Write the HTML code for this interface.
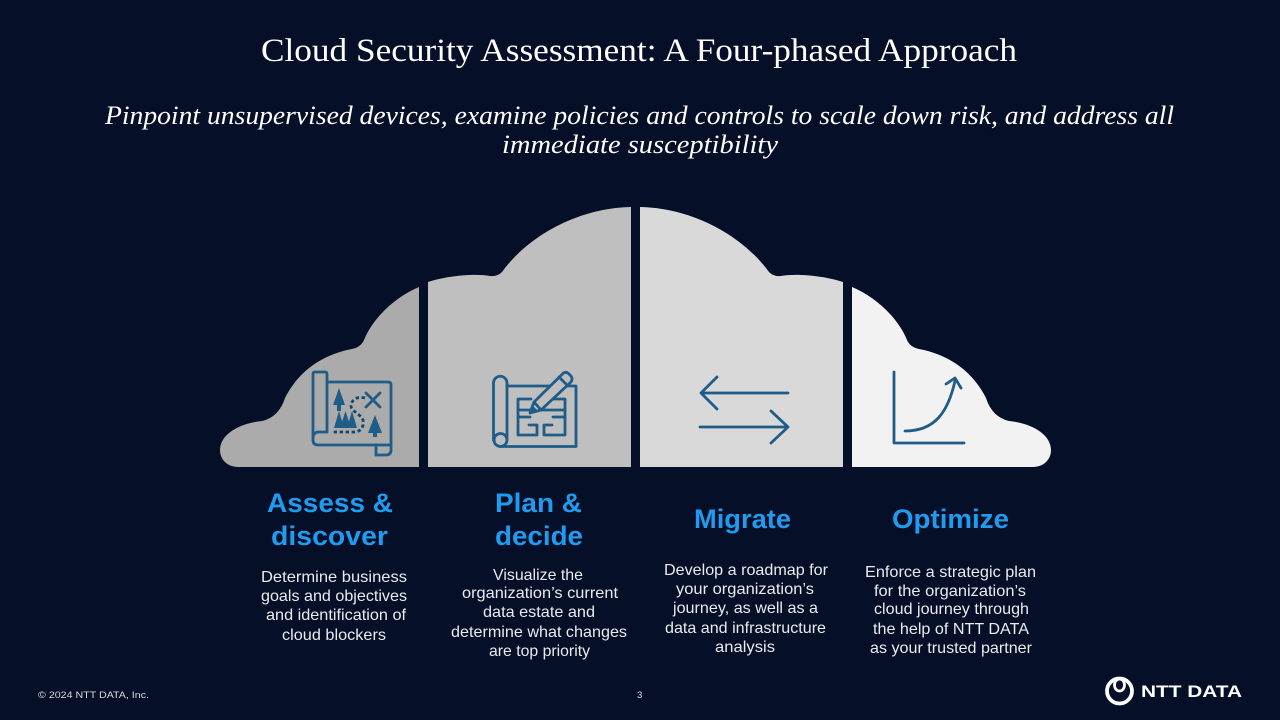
<!DOCTYPE html>
<html lang="en">
<head>
<meta charset="utf-8">
<title>Cloud Security Assessment</title>
<style>
html,body{margin:0;padding:0;width:1280px;height:720px;overflow:hidden;background:#050f27}
svg{display:block}
.t{font-family:"Liberation Serif",serif;fill:#fff}
.h{font-family:"Liberation Sans",sans-serif;font-weight:700;font-size:27px;fill:#1f9bf0}
.b{font-family:"Liberation Sans",sans-serif;font-size:16px;fill:#e9ebee}
.f{font-family:"Liberation Sans",sans-serif;font-size:9.500px;fill:#d8dbe0}
.i{fill:none;stroke:#1f5c87;stroke-width:2.800;stroke-linecap:round;stroke-linejoin:round}
.j{fill:#1f5c87;stroke:none}
</style>
</head>
<body>
<svg width="1280" height="720" viewBox="0 0 1280 720" xmlns="http://www.w3.org/2000/svg">
<rect width="1280" height="720" fill="#050f27"/>

<text class="t" x="261" y="61" font-size="33" textLength="756" lengthAdjust="spacingAndGlyphs">Cloud Security Assessment: A Four-phased Approach</text>
<text class="t" x="105" y="124" font-size="26" font-style="italic" textLength="1069" lengthAdjust="spacingAndGlyphs">Pinpoint unsupervised devices, examine policies and controls to scale down risk, and address all</text>
<text class="t" x="502" y="153" font-size="26" font-style="italic" textLength="276" lengthAdjust="spacingAndGlyphs">immediate susceptibility</text>

<!-- cloud -->
<path fill="#ababab" d="M419 287C395 297 373 318 364 340Q361 347 352 349C315 356 295 378 285 398Q279 417 262 421C240 423 220 434 220 450C220 460 228 467 238 467H419Z"/>
<path fill="#bfbfbf" d="M428 282C445 276 475 273 490 276Q497 277 502 272C528 236 578 208 631 207V467H428Z"/>
<g transform="translate(1271,0) scale(-1,1)">
<path fill="#d9d9d9" d="M428 282C445 276 475 273 490 276Q497 277 502 272C528 236 578 208 631 207V467H428Z"/>
<path fill="#f2f2f2" d="M419 287C395 297 373 318 364 340Q361 347 352 349C315 356 295 378 285 398Q279 417 262 421C240 423 220 434 220 450C220 460 228 467 238 467H419Z"/>
</g>

<!-- map icon -->
<g class="i">
<path d="M327 432V374Q327 372 325 372H315Q313 372 313 374V440Q313 445 318 445H391"/>
<path d="M327 382H388Q391 382 391 385V450Q391 455 386 455H376V445"/>
<path d="M313 438Q313 432 319 432H327"/>
<path d="M366 393L380 407M380 393L366 407"/>
</g>
<path d="M365 398C356 396 352 400 351 405C350 411 361 414 363 420C364 426 362 431 355 432H333" fill="none" stroke="#15476a" stroke-width="2.800" stroke-dasharray="3.400 2.600"/>
<g class="j">
<path d="M339 388L333 405H337V411H341V405H345Z"/>
<path d="M339 411L334 428H344Z"/>
<path d="M345.500 411L340 428H351Z"/>
<path d="M352 411L347 428H357Z"/>
<path d="M375 415L368 433H373V437H377V433H382Z"/>
</g>

<!-- blueprint icon -->
<g class="i">
<path d="M507 440V383A6.750 6.750 0 0 0 493.500 383V440"/>
<circle cx="500.500" cy="440" r="6.500"/>
<path d="M507 386H576V446.500H500"/>
<path d="M544 399H565V435H544V425H552M531 399H518V435H537V425H529M518 410H534M518 417H530M565 410H541M565 417H553"/>
<path d="M530 413L534 402L563 373.500Q566 371 569 374L571 376Q573 379 571 382L541 410Z" fill="#bfbfbf"/>
<path d="M534 402L541 410M559 377L567 385"/>
</g>
<path class="j" d="M529 414L532 405L538 411Z"/>

<!-- arrows icon -->
<g class="i">
<path d="M788 393H701M717 377L701 393L717 409"/>
<path d="M700 427H788M771 411L788 427L771 443"/>
</g>

<!-- chart icon -->
<g class="i">
<path d="M894 372V443H964"/>
<path d="M905 431C935 431 948 412 955 381"/>
<path d="M946 384L955 378L961 388"/>
</g>

<!-- headings -->
<text class="h" x="267" y="512" textLength="126" lengthAdjust="spacingAndGlyphs">Assess &amp;</text>
<text class="h" x="271" y="545" textLength="117" lengthAdjust="spacingAndGlyphs">discover</text>
<text class="h" x="495" y="512" textLength="87" lengthAdjust="spacingAndGlyphs">Plan &amp;</text>
<text class="h" x="495" y="545" textLength="88" lengthAdjust="spacingAndGlyphs">decide</text>
<text class="h" x="694" y="528" textLength="97" lengthAdjust="spacingAndGlyphs">Migrate</text>
<text class="h" x="892" y="528" textLength="117" lengthAdjust="spacingAndGlyphs">Optimize</text>

<!-- body -->
<text class="b" x="261" y="582" textLength="146" lengthAdjust="spacingAndGlyphs">Determine business</text>
<text class="b" x="261" y="601" textLength="146" lengthAdjust="spacingAndGlyphs">goals and objectives</text>
<text class="b" x="266" y="620" textLength="140" lengthAdjust="spacingAndGlyphs">and identification of</text>
<text class="b" x="282" y="640" textLength="104" lengthAdjust="spacingAndGlyphs">cloud blockers</text>

<text class="b" x="493" y="580" textLength="90" lengthAdjust="spacingAndGlyphs">Visualize the</text>
<text class="b" x="462" y="598" textLength="156" lengthAdjust="spacingAndGlyphs">organization’s current</text>
<text class="b" x="483" y="617" textLength="112" lengthAdjust="spacingAndGlyphs">data estate and</text>
<text class="b" x="451" y="637" textLength="176" lengthAdjust="spacingAndGlyphs">determine what changes</text>
<text class="b" x="489" y="656" textLength="101" lengthAdjust="spacingAndGlyphs">are top priority</text>

<text class="b" x="664" y="575" textLength="164" lengthAdjust="spacingAndGlyphs">Develop a roadmap for</text>
<text class="b" x="676" y="594" textLength="138" lengthAdjust="spacingAndGlyphs">your organization’s</text>
<text class="b" x="673" y="613" textLength="145" lengthAdjust="spacingAndGlyphs">journey, as well as a</text>
<text class="b" x="665" y="633" textLength="161" lengthAdjust="spacingAndGlyphs">data and infrastructure</text>
<text class="b" x="715" y="652" textLength="60" lengthAdjust="spacingAndGlyphs">analysis</text>

<text class="b" x="865" y="577" textLength="171" lengthAdjust="spacingAndGlyphs">Enforce a strategic plan</text>
<text class="b" x="874" y="596" textLength="152" lengthAdjust="spacingAndGlyphs">for the organization’s</text>
<text class="b" x="874" y="614" textLength="155" lengthAdjust="spacingAndGlyphs">cloud journey through</text>
<text class="b" x="873" y="634" textLength="156" lengthAdjust="spacingAndGlyphs">the help of NTT DATA</text>
<text class="b" x="870" y="653" textLength="162" lengthAdjust="spacingAndGlyphs">as your trusted partner</text>

<!-- footer -->
<text class="f" x="38" y="698" textLength="111" lengthAdjust="spacingAndGlyphs">© 2024  NTT DATA, Inc.</text>
<text class="f" x="637" y="698">3</text>

<!-- logo -->
<circle cx="1119.500" cy="691" r="12.500" fill="none" stroke="#fff" stroke-width="3.800"/>
<ellipse cx="1119.500" cy="685" rx="5" ry="6" fill="none" stroke="#fff" stroke-width="2.800"/>
<text x="1141" y="697" font-family="'Liberation Sans',sans-serif" font-weight="700" font-size="17" fill="#fff" textLength="101" lengthAdjust="spacingAndGlyphs">NTT DATA</text>
</svg>
</body>
</html>
